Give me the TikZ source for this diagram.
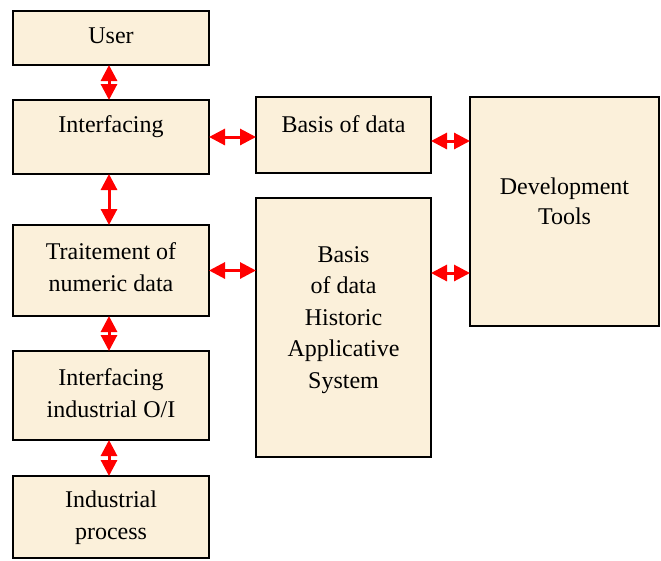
\documentclass[tikz,border=0pt]{standalone}
\usepackage{fontspec}
\setmainfont{Liberation Serif}
\usetikzlibrary{arrows.meta}
\definecolor{boxfill}{RGB}{251,240,218}
\tikzset{
  box/.style={draw=black, line width=2.5pt, fill=boxfill, inner sep=0pt, outer sep=0pt},
  lbl/.style={align=center, inner sep=0pt, font=\fontsize{24}{32}\selectfont},
  biarrow/.style={draw=red, line width=3pt, {Triangle[length=16pt,width=16pt]}-{Triangle[length=16pt,width=16pt]}}
}
\begin{document}
\begin{tikzpicture}[x=1pt,y=-1pt]
\useasboundingbox (0,0) rectangle (661,560);
\node[box, minimum width=196pt, minimum height=54pt] (user) at (111,38) {};
\node[box, minimum width=196pt, minimum height=74pt] (intf) at (111,137) {};
\node[box, minimum width=196pt, minimum height=91pt] (trait) at (111,270.5) {};
\node[box, minimum width=196pt, minimum height=89pt] (ioi) at (111,395.5) {};
\node[box, minimum width=196pt, minimum height=82pt] (proc) at (111,517) {};
\node[box, minimum width=175pt, minimum height=76pt] (basis) at (343.5,135) {};
\node[box, minimum width=175pt, minimum height=259pt] (hist) at (343.5,327.5) {};
\node[box, minimum width=189pt, minimum height=229pt] (dev) at (564.5,211.5) {};

\node[lbl] (userT) at (111,36) {User};
\node[lbl] (intfT) at (111,127) {Interfacing};
\node[lbl] (basisT) at (343.5,124) {Basis of data};
\node[lbl, font=\fontsize{24}{30}\selectfont] (devT) at (564.5,201) {Development\\Tools};
\node[lbl] (traitT) at (111,267) {Traitement of\\numeric data};
\node[lbl] (ioiT) at (111,393) {Interfacing\\industrial O/I};
\node[lbl] (procT) at (111,518) {Industrial\\process};
\node[lbl, font=\fontsize{24}{31.5}\selectfont] (histT) at (343.5,320) {Basis\\of data\\Historic\\Applicative\\System};

\draw[biarrow] (user.south -| 109,0) -- (intf.north -| 109,0);
\draw[biarrow] (intf.south -| 109,0) -- (trait.north -| 109,0);
\draw[biarrow] (trait.south -| 109,0) -- (ioi.north -| 109,0);
\draw[biarrow] (ioi.south -| 109,0) -- (proc.north -| 109,0);
\draw[biarrow] (intf.east) -- (intf.east -| basis.west);
\draw[biarrow] (basis.east |- 0,141) -- (dev.west |- 0,141);
\draw[biarrow] (trait.east) -- (trait.east -| hist.west);
\draw[biarrow] (hist.east |- 0,273) -- (dev.west |- 0,273);
\end{tikzpicture}
\end{document}
